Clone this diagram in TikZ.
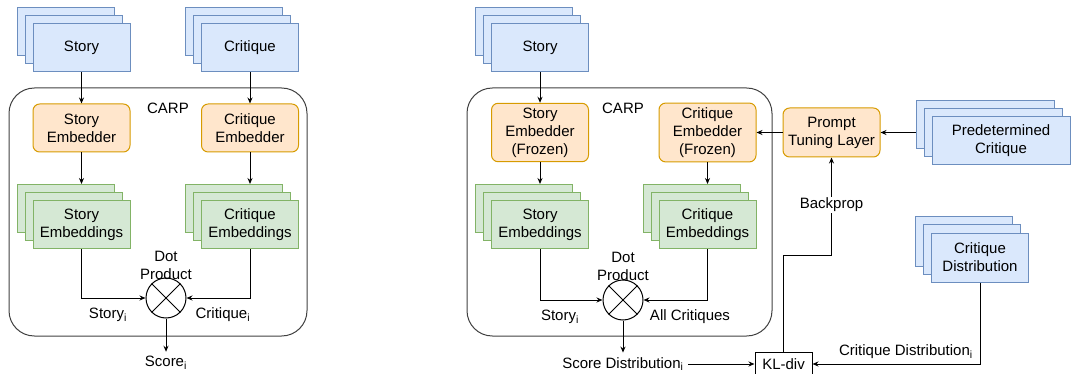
\documentclass[tikz,border=0pt]{standalone}
\usepackage{fontspec}
\setmainfont{Liberation Sans}
\usepackage{xcolor}
\usetikzlibrary{positioning,calc,shadows,arrows.meta}
\definecolor{docfill}{HTML}{DAE8FC}
\definecolor{docline}{HTML}{6C8EBF}
\definecolor{encfill}{HTML}{FFE6CC}
\definecolor{encline}{HTML}{D79B00}
\definecolor{embfill}{HTML}{D5E8D4}
\definecolor{embline}{HTML}{82B366}

\begin{document}
\begin{tikzpicture}[x=0.75pt, y=-0.75pt,
	every node/.style={font=\fontsize{11.25}{13.5}\selectfont, align=center},
	arr/.style={-{Stealth[length=4.5pt,width=3.8pt]}, line width=0.75pt},
	doc/.style={draw=docline, fill=docfill, line width=0.75pt, minimum width=72.75pt, minimum height=36pt,
		copy shadow={shadow xshift=-12pt, shadow yshift=12pt},
		copy shadow={shadow xshift=-6pt, shadow yshift=6pt}},
	emb/.style={doc, draw=embline, fill=embfill},
	enc/.style={draw=encline, fill=encfill, rounded corners=5pt, line width=0.75pt, minimum width=72.75pt, minimum height=36pt},
	carp/.style={draw=black!75, rounded corners=19pt, line width=0.75pt, minimum height=186pt},
	dotp/.style={circle, draw, line width=0.75pt, minimum size=30pt, inner sep=0pt},
	]
				\useasboundingbox (0,0) rectangle (1071,374);
				% left: CARP
				\node[carp, minimum width=223.5pt] (carpL) at (158,212) {};
				\node (carpLlbl) at (168,108) {CARP};
				\node[doc] (storyL) at (81.5,48) {Story};
				\node[doc] (critL) at (250,48) {Critique};
				\node[enc] (sembL) at (81.5,128) {Story\\Embedder};
				\node[enc] (cembL) at (250,128) {Critique\\Embedder};
				\node[emb] (svecL) at (81.5,224.5) {Story\\Embeddings};
				\node[emb] (cvecL) at (250,224.5) {Critique\\Embeddings};
				\coordinate (svecLtop) at ($(svecL.north)+(0,-16)$);
				\coordinate (cvecLtop) at ($(cvecL.north)+(0,-16)$);
				\node[dotp] (dotL) at (166,298) {};
				\draw[line width=0.75pt] (dotL.north west) -- (dotL.south east) (dotL.north east) -- (dotL.south west);
				\node (dotLlbl) at (166,265) {Dot\\Product};
				\node (sL) at (108,315) {Story\textsubscript{i}};
				\node (cL) at (223,315) {Critique\textsubscript{i}};
				\node (scoreL) at (166,363) {Score\textsubscript{i}};
				\draw[arr] (storyL) -- (sembL);
				\draw[arr] (critL) -- (cembL);
				\draw[arr] (sembL) -- (svecLtop);
				\draw[arr] (cembL) -- (cvecLtop);
				\draw[arr] (svecL.south) |- (dotL.west);
				\draw[arr] (cvecL.south) |- (dotL.east);
				\draw[arr] (dotL) -- (scoreL);
				% right: prompt tuning
				\node[carp, minimum width=228.75pt] (carpR) at (619.5,212) {};
				\node (carpRlbl) at (623,108) {CARP};
				\node[doc] (storyR) at (540,48) {Story};
				\node[enc, minimum height=42.75pt] (sembR) at (540,132.5) {Story\\Embedder\\(Frozen)};
				\node[enc, minimum height=42.75pt] (cembR) at (707.5,132.5) {Critique\\Embedder\\(Frozen)};
				\node[emb] (svecR) at (540,224.5) {Story\\Embeddings};
				\node[emb] (cvecR) at (707.5,224.5) {Critique\\Embeddings};
				\coordinate (svecRtop) at ($(svecR.north)+(0,-16)$);
				\coordinate (cvecRtop) at ($(cvecR.north)+(0,-16)$);
				\node[dotp] (dotR) at (623,300) {};
				\draw[line width=0.75pt] (dotR.north west) -- (dotR.south east) (dotR.north east) -- (dotR.south west);
				\node (dotRlbl) at (623,266) {Dot\\Product};
				\node (sR) at (560,317) {Story\textsubscript{i}};
				\node (aR) at (690,317) {All Critiques};
				\node (scoreR) at (623,364) {Score Distribution\textsubscript{i}};
				\node[enc, minimum height=36.75pt] (prompt) at (831.5,132.5) {Prompt\\Tuning Layer};
				\node[doc, minimum width=103.5pt] (pred) at (1001,141) {Predetermined\\Critique};
				\coordinate (predback) at ($(pred.west)+(-16,0)$);
				\node[doc, minimum height=36.75pt] (cdist) at (980,257.5) {Critique\\Distribution};
				\node[draw, line width=0.75pt, minimum width=42.75pt, minimum height=18pt] (kl) at (783.5,364) {KL-div};
				\coordinate (bpturn) at (831.5,255);
				\draw[arr] (storyR) -- (sembR);
				\draw[arr] (sembR) -- (svecRtop);
				\draw[arr] (cembR) -- (cvecRtop);
				\draw[arr] (svecR.south) |- (dotR.west);
				\draw[arr] (cvecR.south) |- (dotR.east);
				\draw[arr] (dotR) -- (scoreR);
				\draw[arr] (scoreR.east) -- (kl.west);
				\draw[arr] (prompt.west) -- (cembR.east);
				\draw[arr] (predback |- prompt.east) -- (prompt.east);
				\draw[arr] (kl.north) |- (bpturn) -- (prompt.south);
				\draw[arr] (cdist.south) |- (kl.east);
				\node[fill=white, inner sep=1pt] (bplbl) at (831.5,205) {Backprop};
				\node (cdlbl) at (906,352) {Critique Distribution\textsubscript{i}};
			\end{tikzpicture}
\end{document}
